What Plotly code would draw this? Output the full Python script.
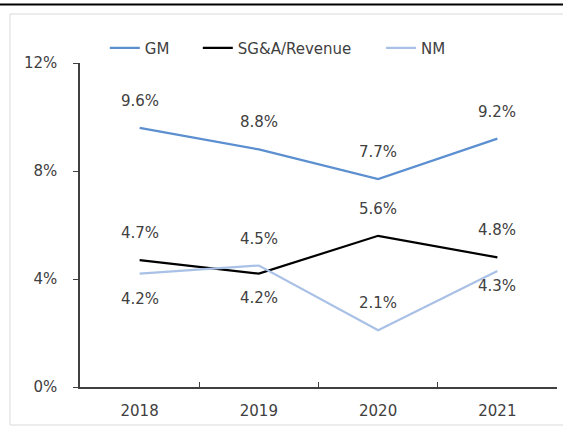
import plotly.graph_objects as go

# { data
years = ['2018', '2019', '2020', '2021']
gm = [9.6, 8.8, 7.7, 9.2]
sga = [4.7, 4.2, 5.6, 4.8]
nm = [4.2, 4.5, 2.1, 4.3]
# label offsets in px (+ above, - below)
gm_shift = [27, 27, 27, 27]
sga_shift = [27, -24, 27, 27]
nm_shift = [-25, 27, 27, -15]
# }

font_name = 'DejaVu Sans'
txt_color = '#404040'
fsize = 15

fig = go.Figure()

series = [('GM', gm, '#5B8FD0', gm_shift, 'legend', 0.052),
          ('SG&A/Revenue', sga, '#000000', sga_shift, 'legend2', 0.247),
          ('NM', nm, '#A9C1E6', nm_shift, 'legend3', 0.631)]

legends = {}
for name, vals, color, shifts, leg, lx in series:
    fig.add_trace(go.Scatter(x=years, y=vals, mode='lines', name=name,
                             legend=leg,
                             line=dict(color=color, width=2.2)))
    for i, v in enumerate(vals):
        fig.add_annotation(x=i, y=v, text=f'{v:.1f}%', showarrow=False,
                           yshift=shifts[i],
                           font=dict(size=fsize, color=txt_color,
                                     family=font_name))
    legends[leg] = dict(orientation='h', x=lx, xanchor='left', y=1.046,
                        yanchor='middle', bgcolor='rgba(0,0,0,0)',
                        font=dict(size=fsize, color=txt_color))

# { frame lines (open on the right, runs off the page)
frame = dict(color='#D9D9D9', width=1)
fig.add_shape(type='line', xref='paper', yref='paper',
              x0=-0.1468, x1=1.2, y0=1.1512, y1=1.1512, line=frame)
fig.add_shape(type='line', xref='paper', yref='paper',
              x0=-0.1468, x1=1.2, y0=-0.1173, y1=-0.1173, line=frame)
fig.add_shape(type='line', xref='paper', yref='paper',
              x0=-0.1468, x1=-0.1468, y0=-0.1173, y1=1.1512, line=frame)
fig.add_shape(type='line', xref='paper', yref='paper',
              x0=-0.17, x1=1.2, y0=1.1806, y1=1.1806,
              line=dict(color='#000000', width=2))
# }

fig.update_layout(
    width=563, height=426,
    margin=dict(l=80, r=6, t=63, b=39),
    plot_bgcolor='white', paper_bgcolor='white',
    font=dict(family=font_name, size=fsize, color=txt_color),
    showlegend=True,
    **legends,
)

fig.update_xaxes(type='category', range=[-0.5, 3.5], showgrid=False,
                 showline=True, linecolor='#404040', linewidth=1.5,
                 ticks='inside', tickson='boundaries', ticklen=5,
                 ticklabelstandoff=9,
                 tickcolor='#404040', tickfont=dict(size=fsize, color=txt_color))

fig.update_yaxes(range=[0, 12], tickvals=[0, 4, 8, 12],
                 ticktext=['0%', '4%', '8%', '12%'], showgrid=False,
                 zeroline=False, showline=True, linecolor='#404040',
                 linewidth=1.5, ticks='outside', ticklen=5, tickcolor='#404040',
                 ticklabelstandoff=13,
                 tickfont=dict(size=fsize, color=txt_color))

fig.write_html('out.html', config={'displayModeBar': False},
               post_script="document.body.style.margin='0px';"
                           "document.body.style.overflow='hidden';"
                           "document.documentElement.style.overflow='hidden';")
